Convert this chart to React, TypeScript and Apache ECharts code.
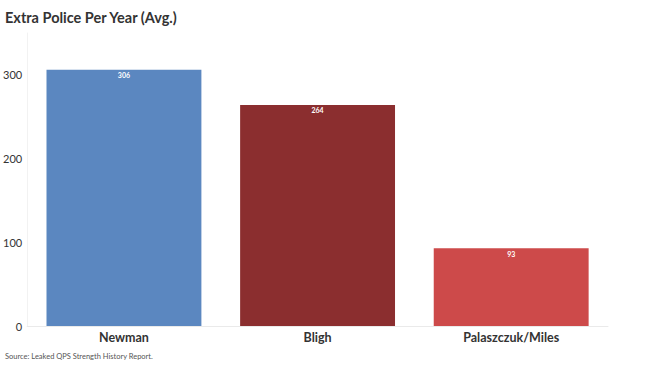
import React, { useEffect, useRef } from "react";
import * as echarts from "echarts";

const categories = ["Newman", "Bligh", "Palaszczuk/Miles"];
const values = [306, 264, 93];
const barColors = ["#5b87c0", "#8b2e2f", "#cd4a4a"];

export default function App() {
  const ref = useRef<HTMLDivElement>(null);
  useEffect(() => {
    if (!ref.current) return;
    const chart = echarts.init(ref.current, null, { renderer: "svg" });
    chart.setOption({
      animation: false,
      title: [
        {
          text: "Extra Police Per Year (Avg.)",
          left: 5,
          top: 10,
          padding: 0,
          textStyle: { fontFamily: "Lato", fontSize: 14.5, fontWeight: 700, color: "#333" },
        },
        {
          text: "Source: Leaked QPS Strength History Report.",
          left: 5,
          top: 352,
          padding: 0,
          textStyle: { fontFamily: "Lato", fontSize: 7.5, fontWeight: 400, color: "#555" },
        },
      ],
      grid: { left: 27, right: 42, top: 33, bottom: 40, containLabel: false },
      xAxis: {
        type: "category",
        data: categories,
        axisLine: { show: true, lineStyle: { color: "#eaeaea" } },
        axisTick: { show: false },
        axisLabel: {
          fontFamily: "Lato",
          fontSize: 12.5,
          fontWeight: 700,
          color: "#333",
          margin: 5,
        },
      },
      yAxis: {
        type: "value",
        min: 0,
        max: 350,
        interval: 100,
        axisLine: { show: true, lineStyle: { color: "#f2f2f2" } },
        axisTick: { show: false },
        splitLine: { show: false },
        axisLabel: {
          showMaxLabel: false,
          fontFamily: "Lato",
          fontSize: 11,
          color: "#333",
          margin: 5,
        },
      },
      series: [
        {
          type: "bar",
          barCategoryGap: "20%",
          data: values.map((v, i) => ({ value: v, itemStyle: { color: barColors[i] } })),
          label: {
            show: true,
            position: "insideTop",
            distance: 2,
            color: "#fff",
            fontFamily: "Lato",
            fontSize: 7,
            fontWeight: 700,
          },
        },
      ],
    });
    return () => chart.dispose();
  }, []);
  return <div ref={ref} style={{ width: 650, height: 366, position: "absolute", left: 0, top: 0 }} />;
}
